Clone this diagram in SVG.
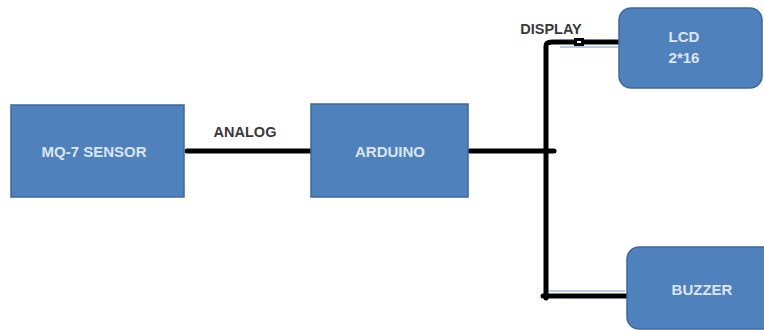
<svg xmlns="http://www.w3.org/2000/svg" width="764" height="330" viewBox="0 0 764 330">
<style>
.box{fill:#4F81BD;stroke:#3C6A9E;stroke-width:1.5}
.lbl{font-family:"Liberation Sans",Arial,sans-serif;font-size:15px;font-weight:bold;fill:#DCE6F2;text-anchor:middle}
.cap{font-family:"Liberation Sans",Arial,sans-serif;font-size:14.5px;font-weight:bold;fill:#3a3a3a;text-anchor:middle}
.wire{stroke:#000;stroke-width:5;fill:none;stroke-linecap:round}
.thin{stroke:#9DB7D8;stroke-width:1.5;fill:none}
</style>
<rect width="764" height="330" fill="#fff"/>
<g id="connectors">
<line class="wire" x1="187" y1="151" x2="310" y2="151"/>
<line class="wire" x1="470" y1="151" x2="554" y2="151"/>
<path class="wire" d="M546,298 V46 Q546,42 552,42 H619" stroke-linecap="butt"/>
<path class="thin" d="M560,47 H618"/>
<rect x="574" y="38" width="10" height="8" fill="#000"/>
<rect x="577" y="41" width="4" height="2" fill="#fff"/>
<path class="thin" d="M549,291 H625"/>
<line class="wire" x1="543" y1="296" x2="627" y2="296"/>
<text class="cap" x="245" y="137">ANALOG</text>
<text class="cap" x="551" y="34">DISPLAY</text>
</g>
<g id="mq7">
<rect class="box" x="11" y="105" width="173" height="92"/>
<text class="lbl" x="94" y="157">MQ-7 SENSOR</text>
</g>
<g id="arduino">
<rect class="box" x="311" y="104" width="157" height="93"/>
<text class="lbl" x="390" y="157">ARDUINO</text>
</g>
<g id="lcd">
<rect class="box" x="619" y="8" width="143" height="80" rx="12"/>
<text class="lbl" x="684" y="42">LCD</text>
<text class="lbl" x="684" y="63">2*16</text>
</g>
<g id="buzzer">
<rect class="box" x="627" y="247" width="150" height="82" rx="12"/>
<text class="lbl" x="702" y="295">BUZZER</text>
</g>
</svg>
